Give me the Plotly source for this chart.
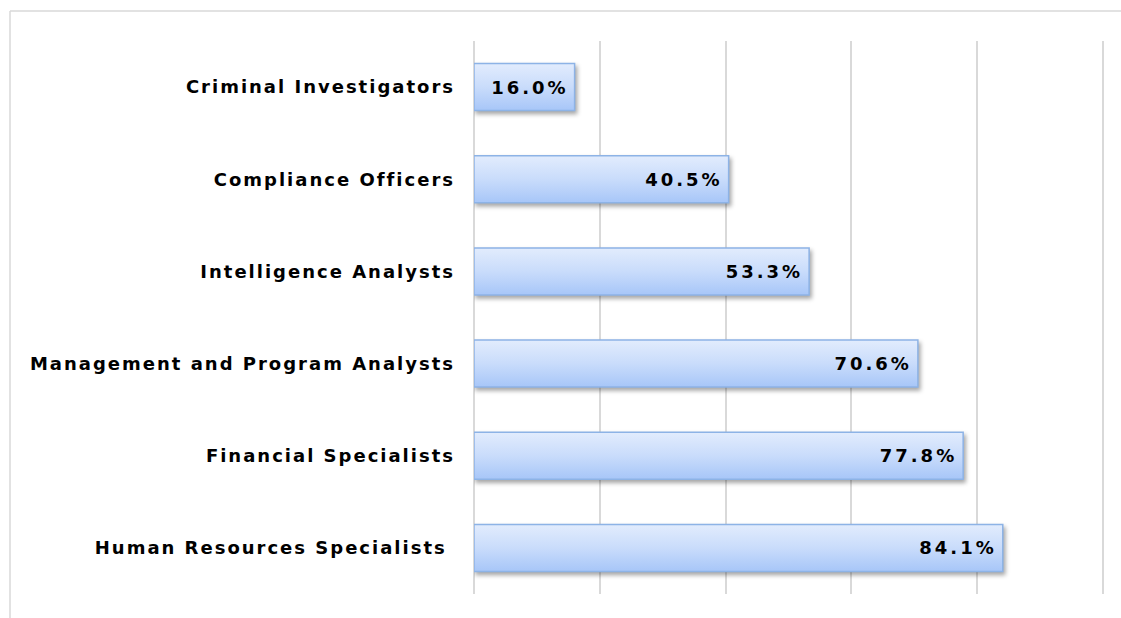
import plotly.graph_objects as go

categories = [
    "Human Resources Specialists ",
    "Financial Specialists",
    "Management and Program Analysts",
    "Intelligence Analysts",
    "Compliance Officers",
    "Criminal Investigators",
]
values = [84.1, 77.8, 70.6, 53.3, 40.5, 16.0]
value_labels = ["84.1%", "77.8%", "70.6%", "53.3%", "40.5%", "16.0%"]

FONT = "DejaVu Sans, Verdana, sans-serif"

fig = go.Figure()
fig.add_trace(go.Bar(
    y=categories,
    x=values,
    orientation="h",
    width=0.51,
    marker=dict(color="#c4d9fb", line=dict(color="#8db3e6", width=1.5)),
    text=value_labels,
    textposition="inside",
    insidetextanchor="end",
    textangle=0,
    textfont=dict(family=FONT, size=18, color="#000000", weight="bold"),
    cliponaxis=False,
    hoverinfo="skip",
))

W, H = 1121, 618
L, R, T, B = 474, 17, 41, 24
PW, PH = W - L - R, H - T - B


def px_x(px):
    return (px - L) / PW


def px_y(py):
    return (H - B - py) / PH


fig.update_layout(
    width=W,
    height=H,
    margin=dict(l=L, r=R, t=T, b=B),
    paper_bgcolor="white",
    plot_bgcolor="white",
    showlegend=False,
    uniformtext=dict(minsize=18, mode="show"),
    shapes=[
        dict(type="line", xref="paper", yref="paper",
             x0=px_x(10), x1=px_x(1125), y0=px_y(11), y1=px_y(11),
             line=dict(color="#d9d9d9", width=1.5)),
        dict(type="line", xref="paper", yref="paper",
             x0=px_x(10), x1=px_x(10), y0=px_y(11), y1=px_y(625),
             line=dict(color="#d9d9d9", width=1.5)),
    ],
)
fig.update_xaxes(
    range=[0, 100.2],
    tick0=0,
    dtick=20,
    showgrid=True,
    gridcolor="#d9d9d9",
    gridwidth=2,
    showticklabels=False,
    zeroline=True,
    zerolinecolor="#d9d9d9",
    zerolinewidth=2,
    fixedrange=True,
)
fig.update_yaxes(
    showgrid=False,
    tickfont=dict(family=FONT, size=18, color="#000000", weight="bold"),
    ticklabelstandoff=18,
    ticks="",
    fixedrange=True,
)

post_js = """
var gd = document.getElementById('{plot_id}');
document.body.style.margin = '0';
document.body.style.overflow = 'hidden';
var st = document.createElement('style');
st.textContent = '.ytick text{letter-spacing:2px;} text.bartext{letter-spacing:3px;}';
document.head.appendChild(st);
function deco(){
  var ns = 'http://www.w3.org/2000/svg';
  var svg = gd.querySelector('svg.main-svg');
  if (!svg) return;
  var defs = svg.querySelector('defs');
  if (!document.getElementById('bargrad')) {
    var lg = document.createElementNS(ns, 'linearGradient');
    lg.setAttribute('id', 'bargrad');
    lg.setAttribute('x1', '0'); lg.setAttribute('y1', '0');
    lg.setAttribute('x2', '0'); lg.setAttribute('y2', '1');
    [['0', '#e2ecfd'], ['0.5', '#c9dcfb'], ['1', '#a7c6f8']].forEach(function(s){
      var e = document.createElementNS(ns, 'stop');
      e.setAttribute('offset', s[0]);
      e.setAttribute('stop-color', s[1]);
      lg.appendChild(e);
    });
    defs.appendChild(lg);
  }
  gd.querySelectorAll('.barlayer .point').forEach(function(g){
    var p = g.querySelector('path');
    var t = g.querySelector('text');
    if (p) {
      p.style.fill = 'url(#bargrad)';
      p.style.filter = 'drop-shadow(2px 3px 2px rgba(0,0,0,0.35))';
    }
    if (p && t) {
      var pb = p.getBoundingClientRect();
      var tb = t.getBoundingClientRect();
      var dx = (pb.right - 6) - tb.right;
      var dy = (pb.top + pb.height / 2) - (tb.top + tb.height / 2);
      t.setAttribute('transform', 'translate(' + dx + ',' + dy + ') ' + (t.getAttribute('transform') || ''));
    }
  });
}
var d = gd.data, l = gd.layout;
Plotly.newPlot(gd, d, l, {displayModeBar: false}).then(deco);
"""

fig.write_html("out.html", post_script=post_js)
